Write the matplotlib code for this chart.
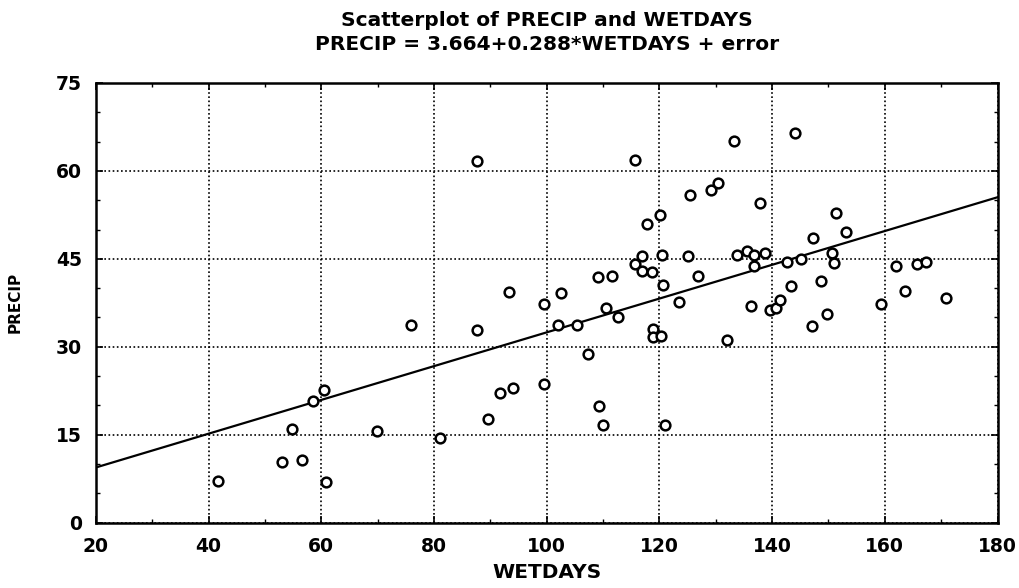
import matplotlib.pyplot as plt
import numpy as np
from matplotlib.ticker import MultipleLocator

plt.rcParams['font.family'] = ['DejaVu Sans']
plt.rcParams['font.weight'] = 'bold'

# data
wetdays = [41.7, 53.1, 56.6, 54.8, 58.6, 60.5, 60.8, 69.9, 76.0, 81.0,
           87.7, 89.6, 91.7, 94.0, 99.6, 99.6, 87.7, 93.3, 102.6, 110.5,
           112.6, 109.1, 111.5, 115.7, 117.8, 120.1, 116.9, 120.4, 115.6, 116.9,
           118.6, 120.7, 123.4, 125.1, 125.5, 126.9, 129.1, 130.4, 133.2, 137.9,
           133.8, 135.5, 136.7, 138.7, 136.8, 136.2, 142.7, 145.1, 143.3, 139.6,
           140.7, 141.4, 144.1, 147.2, 148.6, 149.8, 150.7, 151.0, 151.3, 153.1,
           159.3, 162.0, 163.5, 165.7, 167.3, 170.9, 102.0, 105.4, 107.4, 109.2,
           110.0, 118.8, 118.8, 120.2, 120.9, 132.0, 147.1]
precip = [7.2, 10.4, 10.7, 15.9, 20.7, 22.7, 7.0, 15.7, 33.7, 14.5,
          32.8, 17.7, 22.1, 22.9, 23.6, 37.3, 61.6, 39.3, 39.2, 36.6,
          35.0, 41.9, 42.1, 61.8, 50.9, 52.4, 45.5, 45.6, 44.1, 42.9,
          42.8, 40.6, 37.6, 45.4, 55.9, 42.0, 56.7, 58.0, 65.1, 54.5,
          45.6, 46.3, 45.6, 46.0, 43.8, 37.0, 44.5, 44.9, 40.4, 36.3,
          36.6, 37.9, 66.4, 48.6, 41.2, 35.6, 46.0, 44.3, 52.8, 49.6,
          37.3, 43.8, 39.5, 44.2, 44.4, 38.4, 33.8, 33.7, 28.7, 19.9,
          16.7, 33.0, 31.7, 31.9, 16.6, 31.2, 33.6]
intercept = 3.664
slope = 0.288
x_ticks = [20, 40, 60, 80, 100, 120, 140, 160, 180]
y_ticks = [0, 15, 30, 45, 60, 75]

fig = plt.figure(figsize=(10.2, 5.88), dpi=100)
ax = fig.add_axes([0.094, 0.111, 0.884, 0.748])

ax.grid(linestyle=(0, (1, 1.5)), color='black', linewidth=1.2)
ax.set_axisbelow(True)

xl = np.array([20, 180])
ax.plot(xl, intercept + slope * xl, color='black', linewidth=1.6)
ax.plot(wetdays, precip, 'o', markerfacecolor='white', markeredgecolor='black',
        markersize=7, markeredgewidth=1.8, linestyle='none')

ax.set_xlim(20, 180)
ax.set_ylim(0, 75)
ax.set_xticks(x_ticks)
ax.set_yticks(y_ticks)
ax.xaxis.set_minor_locator(MultipleLocator(10))
ax.yaxis.set_minor_locator(MultipleLocator(5))
ax.tick_params(which='both', direction='in', top=True, right=True)
ax.tick_params(which='major', length=5, width=1.2, labelsize=13.5, pad=10)
ax.tick_params(which='minor', length=3, width=1)
for s in ax.spines.values():
    s.set_linewidth(1.8)

ax.set_xlabel('WETDAYS', fontsize=14.5, fontweight='bold', labelpad=5)
ax.set_ylabel('PRECIP', fontsize=11, fontweight='bold', labelpad=24)
ax.set_title('Scatterplot of PRECIP and WETDAYS\nPRECIP = 3.664+0.288*WETDAYS + error',
             fontsize=14.5, fontweight='bold', pad=24, linespacing=1.3)

plt.savefig('out.png', dpi=100)
